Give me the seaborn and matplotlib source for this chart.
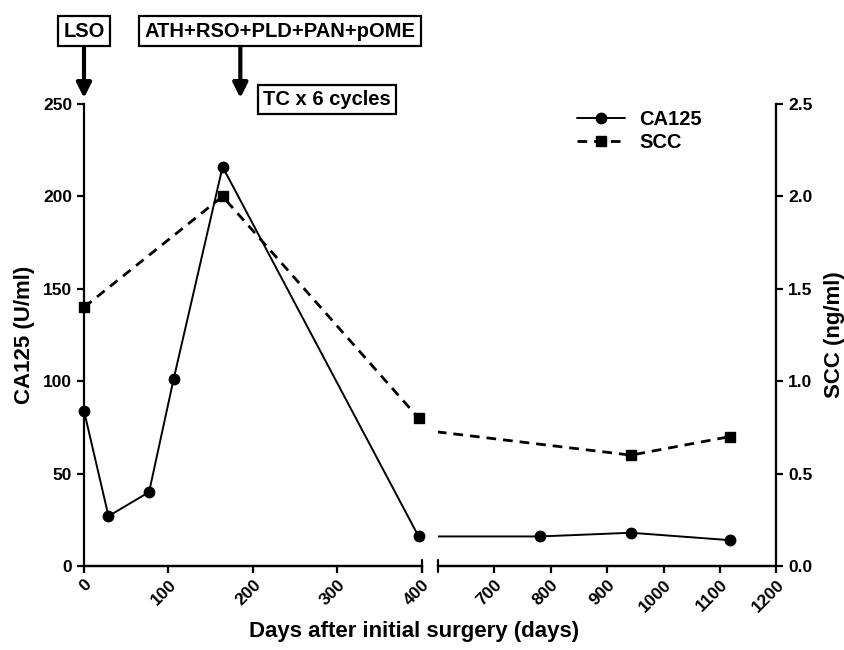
"""
CA125 / SCC course after initial surgery, broken x axis with twin y axes
"""
import matplotlib
matplotlib.use("Agg")
import matplotlib.pyplot as plt
from matplotlib.lines import Line2D
import seaborn as sns
import pandas as pd

# data
ca125_days = [0, 29, 77, 106, 164, 396, 781, 942, 1117]
ca125_vals = [84, 27, 40, 101, 216, 16, 16, 18, 14]
scc_days = [0, 164, 396, 942, 1117]
scc_vals = [1.4, 2.0, 0.8, 0.6, 0.7]

left_ticks = [0, 100, 200, 300, 400]
right_ticks = [700, 800, 900, 1000, 1100, 1200]
ca125_ticks = [0, 50, 100, 150, 200, 250]
scc_ticks = [0.0, 0.5, 1.0, 1.5, 2.0, 2.5]

# treatment events (day, label) and where their boxes sit
event_labels = ["LSO", "ATH+RSO+PLD+PAN+pOME"]
event_days = [0, 185]
event_box_days = [0, 232]
tc_label = "TC x 6 cycles"
tc_day = 288

ca = pd.DataFrame({"day": ca125_days, "value": ca125_vals})
sc = pd.DataFrame({"day": scc_days, "value": scc_vals})

sns.set_style("ticks")
plt.rcParams["font.family"] = ["Liberation Sans", "DejaVu Sans"]
plt.rcParams["font.weight"] = "bold"
for key in ["text.color", "axes.labelcolor", "xtick.color", "ytick.color", "axes.edgecolor"]:
    plt.rcParams[key] = "black"

TICK_FS = 12.5
DASH = (0, (3.5, 2.5))

fig = plt.figure(figsize=(8.45, 6.5), dpi=100)
ax1 = fig.add_axes([0.0994, 0.1292, 0.400, 0.7108])
ax2 = fig.add_axes([0.5183, 0.1292, 0.4005, 0.7108])

panels = [(ax1, (0, 400), left_ticks), (ax2, (600, 1200), right_ticks)]
twins = []
for ax, lims, ticks in panels:
    axb = ax.twinx()
    twins.append(axb)
    # lines are clipped at the panel edges, markers are not
    sns.lineplot(data=ca, x="day", y="value", ax=ax, color="black", lw=1.4)
    sns.lineplot(data=sc, x="day", y="value", ax=axb, color="black", lw=2.0,
                 linestyle=DASH)
    ca_in = ca[(ca.day >= lims[0]) & (ca.day <= lims[1])]
    sc_in = sc[(sc.day >= lims[0]) & (sc.day <= lims[1])]
    ax.plot(ca_in.day, ca_in.value, "o", color="black", ms=7.5, clip_on=False, zorder=5)
    axb.plot(sc_in.day, sc_in.value, "s", color="black", ms=7, clip_on=False, zorder=5)

    ax.set_xlim(*lims)
    ax.set_ylim(0, 250)
    axb.set_ylim(0, 2.5)
    ax.set_xticks(ticks)
    ax.set_xticklabels([str(t) for t in ticks], rotation=45, ha="right",
                       rotation_mode="anchor", fontsize=TICK_FS, fontweight="bold")
    ax.set_xlabel("")
    ax.set_ylabel("")
    axb.set_ylabel("")
    ax.spines["top"].set_visible(False)
    axb.spines["top"].set_visible(False)
    for a in (ax, axb):
        for s in a.spines.values():
            s.set_linewidth(1.6)
            s.set_color("black")
        a.tick_params(width=1.6, length=5, direction="out", colors="black")
    ax.tick_params(axis="x", pad=3)
    # break caps at the inner ends of the x axis
    edge = 1 if ax is ax1 else 0
    ax.plot([edge, edge], [-0.014, 0.014], transform=ax.transAxes,
            color="black", lw=1.6, clip_on=False)

ax1b, ax2b = twins

# left panel: CA125 axis only
ax1.spines["right"].set_visible(False)
ax1b.spines["right"].set_visible(False)
ax1b.spines["left"].set_visible(False)
ax1b.set_yticks([])
ax1.set_yticks(ca125_ticks)
ax1.set_yticklabels([str(t) for t in ca125_ticks], fontsize=TICK_FS, fontweight="bold")
ax1.set_ylabel("CA125 (U/ml)", fontsize=16, fontweight="bold", labelpad=6)

# right panel: SCC axis only
ax2.spines["left"].set_visible(False)
ax2.spines["right"].set_visible(False)
ax2.set_yticks([])
ax2b.spines["left"].set_visible(False)
ax2b.set_yticks(scc_ticks)
ax2b.set_yticklabels([f"{t:.1f}" for t in scc_ticks], fontsize=TICK_FS, fontweight="bold")
ax2b.set_ylabel("SCC (ng/ml)", fontsize=16, fontweight="bold", labelpad=8)

fig.text(0.49, 0.028, "Days after initial surgery (days)", ha="center", va="center",
         fontsize=16, fontweight="bold")

# event boxes and arrows
box = dict(boxstyle="square,pad=0.25", fc="white", ec="black", lw=1.6)
xtrans = ax1.get_xaxis_transform()
for day, bday, label in zip(event_days, event_box_days, event_labels):
    ax1.annotate("", xy=(day, 1.013), xycoords=xtrans,
                 xytext=(day, 1.123), textcoords=xtrans,
                 arrowprops=dict(arrowstyle="-|>", lw=3, color="black",
                                 mutation_scale=22, shrinkA=0, shrinkB=0))
    ax1.text(bday, 1.158, label, transform=xtrans, ha="center", va="center",
             fontsize=14.5, fontweight="bold", bbox=box, clip_on=False)
ax1.text(tc_day, 1.009, tc_label, transform=xtrans, ha="center", va="center",
         fontsize=14.5, fontweight="bold", bbox=box, clip_on=False)

handles = [
    Line2D([], [], color="black", lw=1.4, marker="o", ms=7.5),
    Line2D([], [], color="black", lw=2.0, linestyle=DASH, marker="s", ms=7),
]
fig.legend(handles, ["CA125", "SCC"], loc="upper left", bbox_to_anchor=(0.661, 0.858),
           frameon=False, handlelength=2.4, handletextpad=0.7, labelspacing=0.2,
           prop=dict(size=14.5, weight="bold"))

fig.savefig("out.png", dpi=100)
